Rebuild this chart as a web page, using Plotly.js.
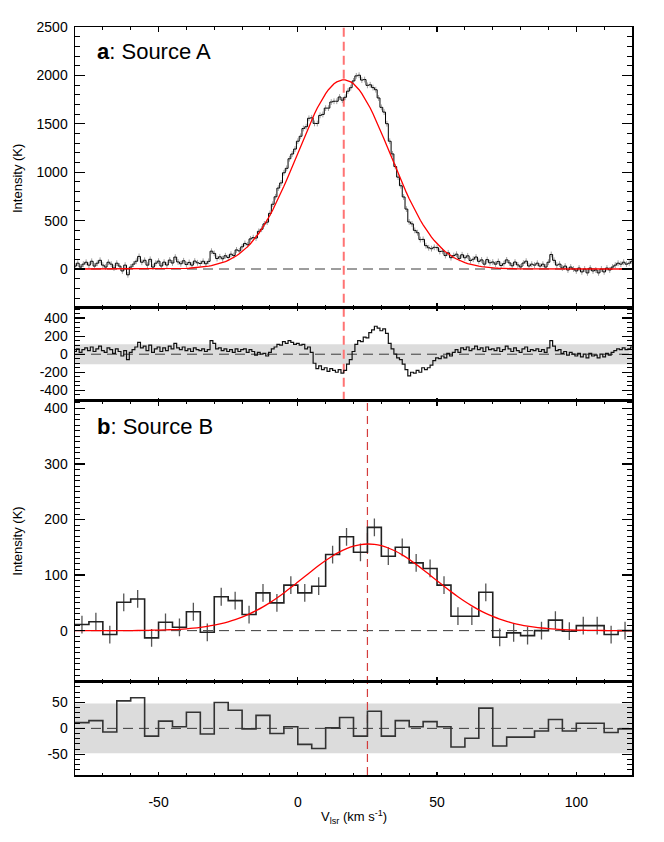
<!DOCTYPE html>
<html><head><meta charset="utf-8">
<script src="https://cdn.plot.ly/plotly-3.0.1.min.js"></script>
<style>html,body{margin:0;padding:0;background:#fff}#chart{width:664px;height:842px}</style>
</head><body><div id="chart"></div>
<script>
// ---------- Source A: 1 km/s channels, v = -80 ... 120 ----------
const VEL0_A = -80, DV_A = 1;
const obsA = [
 30, 60, 20, 50, 70, 40, 80, 30, 60, 90, 40, 20, 70, 50, 10, 60, 30, -20, 40, -60, 20, 50, 80, 130, 70, 90, 40, 100, 20, 60,
 81, 31, 71, 41, 92, 62, 123, 73, 54, 85,
 46, 68, 40, 82, 64, 57, 80, 54, 79, 184,
 161, 108, 126, 106, 137, 119, 153, 139, 197, 187,
 229, 264, 251, 311, 324, 320, 389, 411, 466, 484,
 575, 669, 746, 836, 889, 994, 1040, 1139, 1188, 1239,
 1320, 1371, 1451, 1470, 1557, 1562, 1504, 1503, 1587, 1597,
 1662, 1662, 1725, 1733, 1733, 1777, 1744, 1774, 1837, 1873,
 1943, 1995, 2002, 1952, 1957, 1897, 1903, 1874, 1852, 1767,
 1670, 1621, 1501, 1320, 1189, 1058, 949, 860, 744, 619,
 486, 466, 399, 375, 304, 306, 241, 219, 210, 224,
 221, 181, 184, 139, 167, 117, 139, 153, 109, 147,
 116, 136, 88, 101, 124, 79, 94, 50, 97, 64,
 72, 50, 78, 36, 55, 94, 63, 33, 72, 42,
 21, 61, 81, 31, 50, 40, 60, 30, 50, 20,
 70, 150, 90, 40, 50, 10, 30, -10, 20, 0,
 -20, 10, -30, 0, -40, 10, -20, -10, -40, 0,
 -30, 10, -10, 20, 40, 60, 50, 70, 50, 60,
 80];
const fitA = [
 0, 0, 0, 0, 0, 0, 0, 0, 0, 0, 0, 0, 0, 0, 0, 0, 0, 0, 0, 0, 0, 0, 0, 0, 0, 0, 0, 0, 0, 0,
 1, 1, 1, 1, 2, 2, 3, 3, 4, 5,
 6, 8, 10, 12, 14, 17, 20, 24, 29, 34,
 41, 48, 56, 66, 77, 89, 103, 119, 137, 157,
 179, 204, 231, 261, 294, 330, 369, 411, 456, 504,
 555, 609, 666, 726, 789, 854, 920, 989, 1058, 1129,
 1200, 1271, 1341, 1410, 1477, 1542, 1604, 1663, 1717, 1767,
 1812, 1852, 1885, 1913, 1933, 1947, 1954, 1954, 1947, 1933,
 1913, 1885, 1852, 1812, 1767, 1717, 1663, 1604, 1542, 1477,
 1410, 1341, 1271, 1200, 1129, 1058, 989, 920, 854, 789,
 726, 666, 609, 555, 504, 456, 411, 369, 330, 294,
 261, 231, 204, 179, 157, 137, 119, 103, 89, 77,
 66, 56, 48, 41, 34, 29, 24, 20, 17, 14,
 12, 10, 8, 6, 5, 4, 3, 3, 2, 2,
 1, 1, 1, 1, 0, 0, 0, 0, 0, 0,
 0, 0, 0, 0, 0, 0, 0, 0, 0, 0,
 0, 0, 0, 0, 0, 0, 0, 0, 0, 0,
 0, 0, 0, 0, 0, 0, 0, 0, 0, 0,
 0];
const residA = [
 30, 60, 20, 50, 70, 40, 80, 30, 60, 90, 40, 20, 70, 50, 10, 60, 30, -20, 40, -60, 20, 50, 80, 130, 70, 90, 40, 100, 20, 60,
 80, 30, 70, 40, 90, 60, 120, 70, 50, 80,
 40, 60, 30, 70, 50, 40, 60, 30, 50, 150,
 120, 60, 70, 40, 60, 30, 50, 20, 60, 30,
 50, 60, 20, 50, 30, -10, 20, 0, 10, -20,
 20, 60, 80, 110, 100, 140, 120, 150, 130, 110,
 120, 100, 110, 60, 80, 20, -100, -160, -130, -170,
 -150, -190, -160, -180, -200, -170, -210, -180, -110, -60,
 30, 110, 150, 140, 190, 180, 240, 270, 310, 290,
 260, 280, 230, 120, 60, 0, -40, -60, -110, -170,
 -240, -200, -210, -180, -200, -150, -170, -150, -120, -70,
 -40, -50, -20, -40, 10, -20, 20, 50, 20, 70,
 50, 80, 40, 60, 90, 50, 70, 30, 80, 50,
 60, 40, 70, 30, 50, 90, 60, 30, 70, 40,
 20, 60, 80, 30, 50, 40, 60, 30, 50, 20,
 70, 150, 90, 40, 50, 10, 30, -10, 20, 0,
 -20, 10, -30, 0, -40, 10, -20, -10, -40, 0,
 -30, 10, -10, 20, 40, 60, 50, 70, 50, 60,
 80];
const ERR_A = 30;        // K, per-channel uncertainty
const RMS_A = 110;       // K, grey residual band half-width
const CENTER_A = 16.5;   // km/s, fitted line centre

// ---------- Source B: 5 km/s bins, edges -80 ... 120 ----------
const BIN0_B = -80, DV_B = 5;
const obsB = [11, 16, -7, 51, 57, -13, 15, 6, 34, -3,
              61, 54, 29, 68, 50, 82, 68, 80, 137, 169,
              141, 186, 134, 150, 122, 112, 82, 26, 26, 69,
              -12, -4, -9, 0, 19, -1, 9, 9, -7, 0];
const residB = [11, 15, -7, 53, 59, -15, 14, 3, 31, -11,
                50, 35, -1, 25, -10, 3, -31, -39, 1, 21,
                -15, 33, -15, 15, 3, 13, 3, -36, -19, 39,
                -34, -17, -17, -5, 17, -5, 10, 10, -8, -1];
const FIT0_B = -80, DFIT_B = 2.5;
const fitB = [0, 0, 0, 0, 0, 0, 0,
  0.1, 0.1, 0.2, 0.5, 0.7, 0.9,
  1.3, 1.8, 2.4, 3.3, 4.4, 5.8,
  7.6, 9.8, 12.5, 15.8, 19.7, 24.3,
  29.7, 35.9, 42.8, 50.5, 58.9, 67.9,
  77.5, 87.4, 97.4, 107.4, 117.1, 126.2,
  134.5, 141.7, 147.6, 152.1, 154.9, 156.0,
  155.3, 152.9, 148.8, 143.3, 136.3, 128.3,
  119.3, 109.8, 99.8, 89.8, 79.8, 70.2,
  61.0, 52.4, 44.6, 37.4, 31.1, 25.6,
  20.8, 16.7, 13.2, 10.4, 8.1, 6.2,
  4.7, 3.5, 2.6, 1.9, 1.4, 1.0,
  0.7, 0.5, 0.3, 0.2, 0.1, 0.1,
  0, 0];
const ERR_B = 16;
const RMS_B = 48;
const CENTER_B = 25;

// ---------- tick labels ----------
const X_TICKS = [-50, 0, 50, 100];
const X_TICK_TEXT = ['-50', '0', '50', '100'];
const YA_TICKS = [0, 500, 1000, 1500, 2000, 2500];
const YA_TICK_TEXT = ['0', '500', '1000', '1500', '2000', '2500'];
const YRA_TICKS = [-400, -200, 0, 200, 400];
const YRA_TICK_TEXT = ['-400', '-200', '0', '200', '400'];
const YB_TICKS = [0, 100, 200, 300, 400];
const YB_TICK_TEXT = ['0', '100', '200', '300', '400'];
const YRB_TICKS = [-50, 0, 50];
const YRB_TICK_TEXT = ['-50', '0', '50'];

// ---------- derived grids ----------
const velA = obsA.map((_, i) => VEL0_A + i * DV_A);
const centersB = obsB.map((_, i) => BIN0_B + (i + 0.5) * DV_B);
const edgesB = obsB.map((_, i) => BIN0_B + i * DV_B).concat([BIN0_B + obsB.length * DV_B]);
const stepB = obsB.concat([obsB[obsB.length - 1]]);
const stepRB = residB.concat([residB[residB.length - 1]]);
const velFitB = fitB.map((_, i) => FIT0_B + i * DFIT_B);

function minorVals(lo, hi, step) {
  const out = [];
  for (let v = Math.ceil(lo / step) * step; v <= hi + 1e-9; v += step) out.push(v);
  return out;
}

const FONT = 'Liberation Sans, Arial, Helvetica, sans-serif';
const D_RB = [0, 0.1247], D_B = [0.1247, 0.5004], D_RA = [0.5004, 0.6247], D_A = [0.6247, 1];
const XR = [-80, 120];

const traces = [
  // Panel a
  {x: velA, y: obsA, xaxis: 'x4', yaxis: 'y4', mode: 'markers', marker: {size: 1, color: 'rgba(0,0,0,0)'},
   error_y: {type: 'constant', value: ERR_A, color: '#a0a0a0', thickness: 1, width: 0}, hoverinfo: 'skip'},
  {x: velA, y: obsA, xaxis: 'x4', yaxis: 'y4', mode: 'lines', line: {shape: 'hvh', color: '#000', width: 1}},
  {x: velA, y: fitA, xaxis: 'x4', yaxis: 'y4', mode: 'lines', line: {color: '#ff0000', width: 1.3}},
  // residual a
  {x: velA, y: residA, xaxis: 'x3', yaxis: 'y3', mode: 'lines', line: {shape: 'hvh', color: '#111', width: 1.2}},
  // Panel b
  {x: centersB, y: obsB, xaxis: 'x2', yaxis: 'y2', mode: 'markers', marker: {size: 1, color: 'rgba(0,0,0,0)'},
   error_y: {type: 'constant', value: ERR_B, color: '#555', thickness: 1.3, width: 0}, hoverinfo: 'skip'},
  {x: edgesB, y: stepB, xaxis: 'x2', yaxis: 'y2', mode: 'lines', line: {shape: 'hv', color: '#222', width: 1.6}},
  {x: velFitB, y: fitB, xaxis: 'x2', yaxis: 'y2', mode: 'lines', line: {shape: 'spline', color: '#ff0000', width: 1.3}},
  // residual b
  {x: edgesB, y: stepRB, xaxis: 'x', yaxis: 'y', mode: 'lines', line: {shape: 'hv', color: '#333', width: 1.6}}
];

function xAxis(anchor, labels, majLen, minLen) {
  const a = {
    domain: [0, 1], range: XR, anchor: anchor, showline: true, mirror: 'allticks', linecolor: '#000', linewidth: 1.5,
    ticks: 'inside', ticklen: majLen, tickwidth: 1.3, tickcolor: '#000', showgrid: false, zeroline: false,
    tickmode: 'array', tickvals: X_TICKS, ticktext: X_TICK_TEXT, showticklabels: labels,
    tickfont: {family: FONT, size: 14, color: '#000'}, ticklabelstandoff: 14,
    minor: {tickmode: 'array', tickvals: minorVals(XR[0], XR[1], 10), ticks: 'inside', ticklen: minLen,
            tickwidth: 1, tickcolor: '#000', showgrid: false}
  };
  if (anchor !== 'y') a.matches = 'x';
  return a;
}
function yAxis(anchor, domain, range, tv, tt, minorStep) {
  return {
    domain: domain, range: range, anchor: anchor, showline: true, mirror: 'allticks', linecolor: '#000', linewidth: 1.5,
    ticks: 'inside', ticklen: 10, tickwidth: 1.3, tickcolor: '#000', showgrid: false, zeroline: false,
    tickmode: 'array', tickvals: tv, ticktext: tt, tickfont: {family: FONT, size: 14, color: '#000'},
    ticklabelstandoff: 3,
    minor: {tickmode: 'array', tickvals: minorVals(range[0], range[1], minorStep), ticks: 'inside', ticklen: 5,
            tickwidth: 1, tickcolor: '#000', showgrid: false}
  };
}

const zeroDash = {color: '#3a3a3a', width: 1, dash: '10px,6px'};
const shapes = [
  {type: 'rect', xref: 'paper', x0: 0, x1: 1, yref: 'y3', y0: -RMS_A, y1: RMS_A, fillcolor: '#dcdcdc', line: {width: 0}, layer: 'below'},
  {type: 'rect', xref: 'paper', x0: 0, x1: 1, yref: 'y', y0: -RMS_B, y1: RMS_B, fillcolor: '#dcdcdc', line: {width: 0}, layer: 'below'},
  {type: 'line', xref: 'paper', x0: 0, x1: 1, yref: 'y4', y0: 0, y1: 0, line: zeroDash, layer: 'below'},
  {type: 'line', xref: 'paper', x0: 0, x1: 1, yref: 'y3', y0: 0, y1: 0, line: zeroDash, layer: 'below'},
  {type: 'line', xref: 'paper', x0: 0, x1: 1, yref: 'y2', y0: 0, y1: 0, line: zeroDash, layer: 'below'},
  {type: 'line', xref: 'paper', x0: 0, x1: 1, yref: 'y', y0: 0, y1: 0, line: zeroDash, layer: 'below'},
  {type: 'line', xref: 'x', x0: CENTER_A, x1: CENTER_A, yref: 'paper', y0: D_RA[0], y1: 1,
   line: {color: '#ff7373', width: 2, dash: '9px,5px'}, layer: 'below'},
  {type: 'line', xref: 'x', x0: CENTER_B, x1: CENTER_B, yref: 'paper', y0: 0, y1: D_B[1],
   line: {color: '#d43c3c', width: 1.2, dash: '8px,5px'}, layer: 'below'}
];

const annotations = [
  {text: '<b>a</b>: Source A', xref: 'paper', yref: 'paper', x: 0.036, y: 0.9666, xanchor: 'left', yanchor: 'middle',
   showarrow: false, font: {family: FONT, size: 22, color: '#000'}},
  {text: '<b>b</b>: Source B', xref: 'paper', yref: 'paper', x: 0.036, y: 0.4656, xanchor: 'left', yanchor: 'middle',
   showarrow: false, font: {family: FONT, size: 22, color: '#000'}},
  {text: 'Intensity (K)', xref: 'paper', yref: 'paper', x: -0.1023, y: 0.7968, xanchor: 'center', yanchor: 'middle',
   textangle: -90, showarrow: false, font: {family: FONT, size: 13, color: '#000'}},
  {text: 'Intensity (K)', xref: 'paper', yref: 'paper', x: -0.1023, y: 0.3119, xanchor: 'center', yanchor: 'middle',
   textangle: -90, showarrow: false, font: {family: FONT, size: 13, color: '#000'}},
  {text: 'V<sub>lsr</sub> (km s<sup>-1</sup>)', xref: 'paper', yref: 'paper', x: 0.5, y: -0.0561, xanchor: 'center', yanchor: 'middle',
   showarrow: false, font: {family: FONT, size: 13, color: '#000'}}
];

const layout = {
  width: 664, height: 842, margin: {l: 75, r: 32, t: 27, b: 67},
  paper_bgcolor: '#fff', plot_bgcolor: 'rgba(0,0,0,0)', showlegend: false,
  font: {family: FONT, color: '#000'},
  xaxis: xAxis('y', true, 3, 2), xaxis2: xAxis('y2', false, 5, 3),
  xaxis3: xAxis('y3', false, 3, 2), xaxis4: xAxis('y4', false, 5, 3),
  yaxis: yAxis('x', D_RB, [-90, 90], YRB_TICKS, YRB_TICK_TEXT, 10),
  yaxis2: yAxis('x2', D_B, [-92, 414], YB_TICKS, YB_TICK_TEXT, 10),
  yaxis3: yAxis('x3', D_RA, [-515, 515], YRA_TICKS, YRA_TICK_TEXT, 50),
  yaxis4: yAxis('x4', D_A, [-400, 2500], YA_TICKS, YA_TICK_TEXT, 100),
  shapes: shapes, annotations: annotations
};

Plotly.newPlot('chart', traces, layout, {staticPlot: true, displayModeBar: false});
</script></body></html>
